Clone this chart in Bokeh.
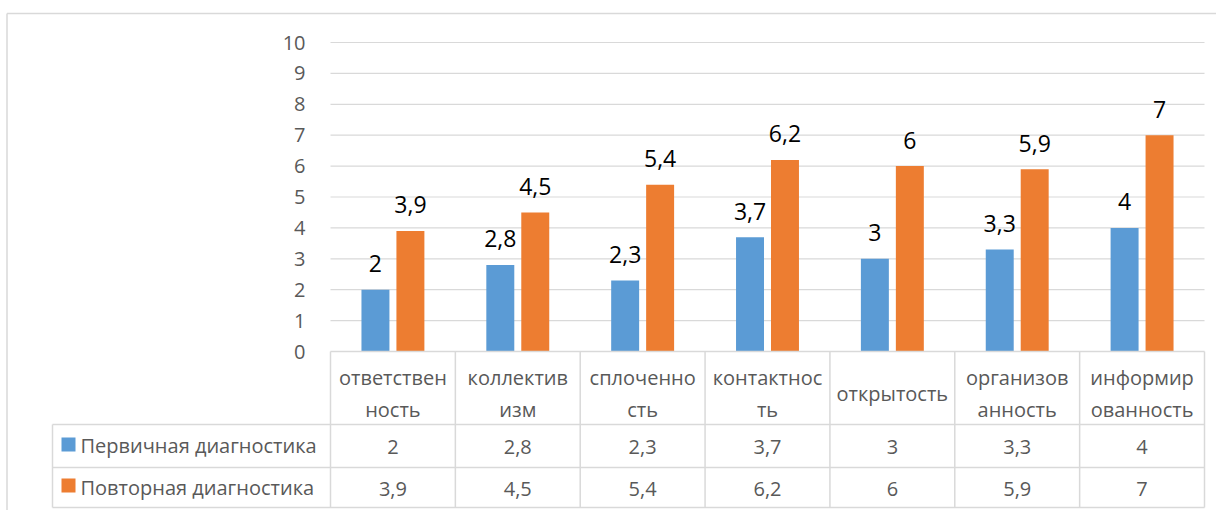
from bokeh.plotting import figure
from bokeh.models import Range1d
from bokeh.core.properties import value
from bokeh.embed import file_html
from bokeh.resources import INLINE

# ---- data ----
categories = ["ответственность", "коллективизм", "сплоченность", "контактность",
              "открытость", "организованность", "информированность"]
category_labels = ["ответствен\nность", "коллектив\nизм", "сплоченно\nсть", "контактнос\nть",
                   "открытость", "организов\nанность", "информир\nованность"]
series_names = ["Первичная диагностика", "Повторная диагностика"]
primary = [2, 2.8, 2.3, 3.7, 3, 3.3, 4]
repeat = [3.9, 4.5, 5.4, 6.2, 6, 5.9, 7]
y_ticks = [0, 1, 2, 3, 4, 5, 6, 7, 8, 9, 10]

BLUE = "#5B9BD5"
ORANGE = "#ED7D31"
GRID = "#D9D9D9"
TXT = "#595959"
FONT = "Open Sans"

# ---- layout (pixel geometry of reference) ----
W, H = 1216, 510
OX, OY = 0, 0
X0PIX, X7PIX = 330, 1204
Y0PIX, Y10PIX = 351, 42
n = len(categories)
ppx = (X7PIX - X0PIX) / n
ppy = (Y0PIX - Y10PIX) / 10.0


def px(x):
    return (x - X0PIX) / ppx


def py(y):
    return (Y0PIX - y) / ppy


p = figure(width=W, height=H, output_backend="svg", toolbar_location=None,
           x_range=Range1d(px(OX), px(OX + W)), y_range=Range1d(py(OY + H), py(OY)),
           x_axis_location=None, y_axis_location=None, min_border=0,
           tools="")
p.grid.visible = False
p.outline_line_color = None
p.background_fill_color = "white"
p.border_fill_color = "white"

# outer chart border (top and left)
p.segment(x0=[px(6.5), px(6.5)], y0=[py(13), py(13)],
          x1=[px(OX + W), px(6.5)], y1=[py(13), py(OY + H)],
          line_color=GRID, line_width=1.5)

# gridlines
gt = [t for t in y_ticks if t > 0]
p.segment(x0=[0] * len(gt), y0=gt, x1=[n] * len(gt), y1=gt, line_color=GRID, line_width=1.2)

# y tick labels
p.text(x=[0] * len(y_ticks), y=y_ticks, text=[str(t) for t in y_ticks], x_offset=-25,
       text_align="right", text_baseline="middle", text_color=TXT,
       text_font=value(FONT), text_font_size="20px")

# bars
xs = [i + 0.5 for i in range(n)]
off = 0.14
bw = 0.224
p.vbar(x=[x - off for x in xs], top=primary, bottom=0, width=bw, fill_color=BLUE, line_color=None)
p.vbar(x=[x + off for x in xs], top=repeat, bottom=0, width=bw, fill_color=ORANGE, line_color=None)


def fmt(v):
    return f"{v:g}".replace(".", ",")


p.text(x=[x - off for x in xs], y=primary, text=[fmt(v) for v in primary], y_offset=-26,
       text_align="center", text_baseline="alphabetic", text_color="black",
       text_font=value(FONT), text_font_size="23px")
p.text(x=[x + off for x in xs], y=repeat, text=[fmt(v) for v in repeat], y_offset=-26,
       text_align="center", text_baseline="alphabetic", text_color="black",
       text_font=value(FONT), text_font_size="23px")

# data table lines
r_top, r1, r2, r_bot = py(351), py(424), py(467), py(507)
leg_left = px(52)
hx0 = [0, leg_left, leg_left, leg_left]
hx1 = [n, n, n, n]
hy = [r_top, r1, r2, r_bot]
p.segment(x0=hx0, y0=hy, x1=hx1, y1=hy, line_color=GRID, line_width=1.5)
vx = list(range(n + 1))
p.segment(x0=vx, y0=[r_top] * len(vx), x1=vx, y1=[r_bot] * len(vx), line_color=GRID, line_width=1.5)
p.segment(x0=[leg_left], y0=[r1], x1=[leg_left], y1=[r_bot], line_color=GRID, line_width=1.5)

# header labels
p.text(x=xs, y=[py(393)] * n, text=category_labels, text_align="center", text_baseline="middle",
       text_color=TXT, text_font=value(FONT), text_font_size="20px", text_line_height=1.2)

# values rows
row_y = [py(446), py(488)]
p.text(x=xs, y=[row_y[0]] * n, text=[fmt(v) for v in primary], text_align="center",
       text_baseline="middle", text_color=TXT, text_font=value(FONT), text_font_size="20px")
p.text(x=xs, y=[row_y[1]] * n, text=[fmt(v) for v in repeat], text_align="center",
       text_baseline="middle", text_color=TXT, text_font=value(FONT), text_font_size="20px")

# legend keys in table
p.scatter(x=[px(68), px(68)], y=[py(444), py(485)], marker="square", size=14,
          fill_color=[BLUE, ORANGE], line_color=None)
p.text(x=[px(80), px(80)], y=[py(445), py(487)], text=series_names, text_align="left",
       text_baseline="middle", text_color=TXT, text_font=value(FONT), text_font_size="20px")

open("out.html", "w").write(file_html(p, INLINE))
